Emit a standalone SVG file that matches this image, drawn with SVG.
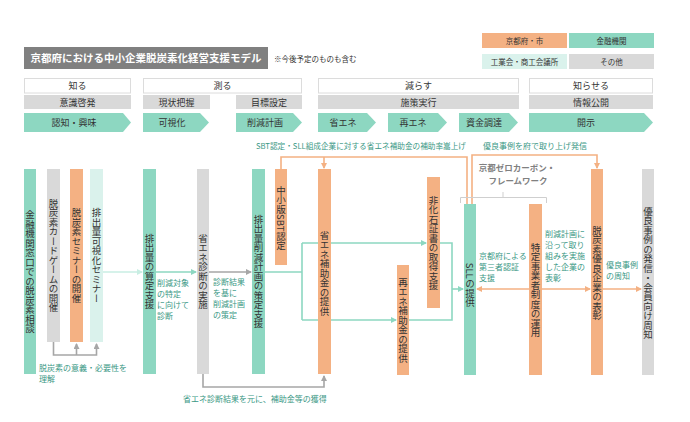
<svg xmlns="http://www.w3.org/2000/svg" width="690" height="422" viewBox="0 0 690 422">
<style>
text{font-family:"Noto Sans CJK JP","Noto Sans",sans-serif;}
.hd{font-size:9px;fill:#333;text-anchor:middle;}
.lg{font-size:7.5px;fill:#333;text-anchor:middle;}
.vt{font-size:9.5px;fill:#333;writing-mode:vertical-rl;text-anchor:middle;}
.lb{font-size:8px;fill:#3a9885;}
.teal{fill:#8dd7c1;}
.orange{fill:#f4b183;}
.gray{fill:#d9d9d9;}
.lteal{fill:#daf2ec;}
.ln{fill:none;stroke-width:1.6;}
.lt{stroke:#8dd7c1;}
.lo{stroke:#f4b183;}
.lgy{stroke:#a6a6a6;}
.llt{stroke:#c9eee3;}
</style>
<defs>
<marker id="aT" markerWidth="6" markerHeight="6" refX="5" refY="3" orient="auto" markerUnits="userSpaceOnUse"><path d="M0,0 L6,3 L0,6 z" fill="#8dd7c1"/></marker>
<marker id="aL" markerWidth="6" markerHeight="6" refX="5" refY="3" orient="auto" markerUnits="userSpaceOnUse"><path d="M0,0 L6,3 L0,6 z" fill="#c9eee3"/></marker>
<marker id="aG" markerWidth="6" markerHeight="6" refX="5" refY="3" orient="auto" markerUnits="userSpaceOnUse"><path d="M0,0 L6,3 L0,6 z" fill="#a6a6a6"/></marker>
<marker id="aO" markerWidth="6" markerHeight="6" refX="5" refY="3" orient="auto" markerUnits="userSpaceOnUse"><path d="M0,0 L6,3 L0,6 z" fill="#f4b183"/></marker>
<marker id="aOs" markerWidth="6" markerHeight="6" refX="1" refY="3" orient="auto" markerUnits="userSpaceOnUse"><path d="M6,0 L0,3 L6,6 z" fill="#f4b183"/></marker>
</defs>
<rect width="690" height="422" fill="#fff"/>

<g id="title">
<rect x="24" y="47" width="244" height="22" fill="#808080"/>
<text x="146" y="62" font-size="10.5" font-weight="bold" fill="#fff" text-anchor="middle">京都府における中小企業脱炭素化経営支援モデル</text>
<text x="274" y="62" font-size="7.5" fill="#333">※今後予定のものも含む</text>
</g>

<g id="legend">
<rect x="482" y="33" width="85" height="15" class="orange"/><text x="524.5" y="43.5" class="lg">京都府・市</text>
<rect x="569" y="33" width="85" height="15" class="teal"/><text x="611.5" y="43.5" class="lg">金融機関</text>
<rect x="482" y="54" width="85" height="15" class="lteal"/><text x="524.5" y="64.5" class="lg">工業会・商工会議所</text>
<rect x="569" y="54" width="85" height="15" class="gray"/><text x="611.5" y="64.5" class="lg">その他</text>
</g>

<g id="phases">
<rect x="24.5" y="78.5" width="106" height="14.5" fill="#fff" stroke="#dcdcdc"/><text x="77.5" y="89" class="hd">知る</text>
<rect x="143.5" y="78.5" width="158" height="14.5" fill="#fff" stroke="#dcdcdc"/><text x="222.5" y="89" class="hd">測る</text>
<rect x="318.5" y="78.5" width="200" height="14.5" fill="#fff" stroke="#dcdcdc"/><text x="418.5" y="89" class="hd">減らす</text>
<rect x="529.5" y="78.5" width="123" height="14.5" fill="#fff" stroke="#dcdcdc"/><text x="591" y="89" class="hd">知らせる</text>
</g>

<g id="stages">
<rect x="24" y="95" width="107" height="14" class="gray"/><text x="77.5" y="105.5" class="hd">意識啓発</text>
<rect x="143" y="95" width="67" height="14" class="gray"/><text x="176.5" y="105.5" class="hd">現状把握</text>
<rect x="236" y="95" width="66" height="14" class="gray"/><text x="269" y="105.5" class="hd">目標設定</text>
<rect x="318" y="95" width="201" height="14" class="gray"/><text x="418.5" y="105.5" class="hd">施策実行</text>
<rect x="529" y="95" width="124" height="14" class="gray"/><text x="591" y="105.5" class="hd">情報公開</text>
</g>

<g id="steps">
<polygon points="24,113 123,113 131,122.5 123,132 24,132" class="teal"/><text x="74" y="126" class="hd">認知・興味</text>
<polygon points="143,113 200,113 209,122.5 200,132 143,132" class="teal"/><text x="172" y="126" class="hd">可視化</text>
<polygon points="236,113 293,113 302,122.5 293,132 236,132" class="teal"/><text x="265" y="126" class="hd">削減計画</text>
<polygon points="318,113 367,113 376,122.5 367,132 318,132" class="teal"/><text x="343" y="126" class="hd">省エネ</text>
<polygon points="388,113 438,113 447,122.5 438,132 388,132" class="teal"/><text x="413" y="126" class="hd">再エネ</text>
<polygon points="459,113 509,113 518,122.5 509,132 459,132" class="teal"/><text x="484" y="126" class="hd">資金調達</text>
<polygon points="529,113 644,113 653,122.5 644,132 529,132" class="teal"/><text x="586" y="126" class="hd">開示</text>
</g>

<g id="connectors">
<path class="ln lgy" d="M53.5,342 V355 H96.5 V344" marker-end="url(#aG)"/>
<path class="ln lgy" d="M76.5,355 V344" marker-end="url(#aG)"/>
<path class="ln llt" d="M103,272 H142" marker-end="url(#aL)"/>
<path class="ln lt" d="M156,272 H196" marker-end="url(#aT)"/>
<path class="ln lgy" d="M209,272 H251" marker-end="url(#aG)"/>
<path class="ln lt" d="M265,272 H302 M302,243 V320"/>
<path class="ln lt" d="M302,243 H426" marker-end="url(#aT)"/>
<path class="ln lt" d="M302,320 H396" marker-end="url(#aT)"/>
<path class="ln lt" d="M440,243 H452 V320 H409"/>
<path class="ln lt" d="M452,289 H463" marker-end="url(#aT)"/>
<path class="ln lo" d="M281,169 V157 H467 V204"/>
<path class="ln lo" d="M324,157 V168" marker-end="url(#aO)"/>
<path class="ln lo" d="M472,204 V155 H597 V168" marker-end="url(#aO)"/>
<path class="ln lo" d="M477,289 H590" marker-start="url(#aOs)" marker-end="url(#aO)"/>
<path class="ln lo" d="M603,289 H641" marker-end="url(#aO)"/>
<path class="ln lgy" d="M203,374 V387 H324 V376" marker-end="url(#aG)"/>
<path fill="none" stroke="#cfcfcf" stroke-width="1" d="M460.5,203 V197.5 H546.5 V203 M503,197.5 V192"/>
</g>

<g id="n1"><rect x="24" y="169" width="12" height="205" class="teal"/><text x="30" y="271.5" class="vt">金融機関窓口での脱炭素相談</text></g>
<g id="n2"><rect x="47" y="169" width="13" height="173" class="gray"/><text x="53.5" y="255.5" class="vt">脱炭素カードゲームの開催</text></g>
<g id="n3"><rect x="70" y="169" width="13" height="173" class="orange"/><text x="76.5" y="255.5" class="vt">脱炭素セミナーの開催</text></g>
<g id="n4"><rect x="90" y="169" width="13" height="173" class="lteal"/><text x="96.5" y="255.5" class="vt">排出量可視化セミナー</text></g>
<g id="n5"><rect x="143" y="169" width="13" height="205" class="teal"/><text x="149.5" y="271.5" class="vt">排出量の算定支援</text></g>
<g id="n6"><rect x="197" y="169" width="12" height="205" class="gray"/><text x="203" y="271.5" class="vt">省エネ診断の実施</text></g>
<g id="n7"><rect x="252" y="169" width="13" height="205" class="teal"/><text x="258.5" y="271.5" class="vt">排出量削減計画の策定支援</text></g>
<g id="n8"><rect x="275" y="169" width="12" height="96" class="orange"/><text x="281" y="218" class="vt">中小版SBT認定</text></g>
<g id="n9"><rect x="318" y="169" width="13" height="205" class="orange"/><text x="324.5" y="273" class="vt">省エネ補助金の提供</text></g>
<g id="n10"><rect x="397" y="265" width="12" height="110" class="orange"/><text x="403" y="320" class="vt">再エネ補助金の提供</text></g>
<g id="n11"><rect x="427" y="177" width="13" height="131" class="orange"/><text x="433.5" y="243" class="vt">非化石証書の取得支援</text></g>
<g id="n12"><rect x="464" y="204" width="12" height="171" class="teal"/><text x="470" y="285" class="vt">SLLの提供</text></g>
<g id="n13"><rect x="529" y="204" width="13" height="171" class="orange"/><text x="535.5" y="290" class="vt">特定事業者制度の運用</text></g>
<g id="n14"><rect x="591" y="169" width="12" height="206" class="orange"/><text x="597" y="273" class="vt">脱炭素優良企業の表彰</text></g>
<g id="n15"><rect x="642" y="169" width="12" height="206" class="gray"/><text x="648" y="273" class="vt">優良事例の発信・会員向け周知</text></g>

<g id="framework">
<text x="517" y="171" font-size="8.5" font-weight="bold" fill="#808080" text-anchor="middle">京都ゼロカーボン・</text>
<text x="518" y="184" font-size="8.5" font-weight="bold" fill="#808080" text-anchor="middle">フレームワーク</text>
</g>

<g id="labels">
<text x="256" y="149" class="lb" textLength="210" lengthAdjust="spacingAndGlyphs">SBT認定・SLL組成企業に対する省エネ補助金の補助率嵩上げ</text>
<text x="483" y="149" class="lb">優良事例を府で取り上げ発信</text>
<text x="157" class="lb"><tspan x="157" y="286">削減対象</tspan><tspan x="157" y="297">の特定</tspan><tspan x="157" y="308">に向けて</tspan><tspan x="157" y="319">診断</tspan></text>
<text x="213" class="lb"><tspan x="213" y="285">診断結果</tspan><tspan x="213" y="296">を基に</tspan><tspan x="213" y="307">削減計画</tspan><tspan x="213" y="318">の策定</tspan></text>
<text x="39" class="lb"><tspan x="39" y="371">脱炭素の意義・必要性を</tspan><tspan x="39" y="382">理解</tspan></text>
<text x="183" y="402" class="lb">省エネ診断結果を元に、補助金等の獲得</text>
<text x="479" class="lb"><tspan x="479" y="259">京都府による</tspan><tspan x="479" y="270">第三者認証</tspan><tspan x="479" y="281">支援</tspan></text>
<text x="545" class="lb"><tspan x="545" y="237">削減計画に</tspan><tspan x="545" y="248">沿って取り</tspan><tspan x="545" y="259">組みを実施</tspan><tspan x="545" y="270">した企業の</tspan><tspan x="545" y="281">表彰</tspan></text>
<text x="606" class="lb"><tspan x="606" y="268">優良事例</tspan><tspan x="606" y="279">の周知</tspan></text>
</g>
</svg>
